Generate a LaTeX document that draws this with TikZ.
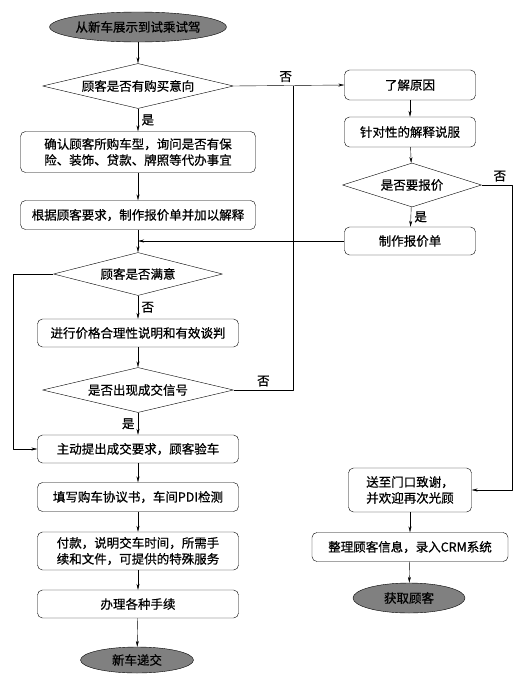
\documentclass[tikz,border=0pt]{standalone}
\usepackage{fontspec}
\setmainfont{Noto Sans CJK SC}[FakeBold=0.6]
\usetikzlibrary{shapes.geometric,arrows.meta}
\begin{document}
\begin{tikzpicture}[x=1pt, y=-1pt, line join=round, >={Stealth[length=6pt,width=3pt]},
	font=\fontsize{12.5}{16}\selectfont,
	box/.style={draw, rounded corners=5pt, align=center, inner sep=0pt},
	ask/.style={draw, diamond, aspect=4, inner sep=0pt},
	ends/.style={draw, ellipse, fill=black!50, inner sep=0pt}]
	\useasboundingbox (0,0) rectangle (522,683);
	% left column
	\node[ends, minimum width=158, minimum height=30] (st) at (138,27) {从新车展示到试乘试驾};
	\node[ask, minimum width=191, minimum height=45] (d1) at (138,86) {顾客是否有购买意向};
	\node[box, minimum width=235, minimum height=41] (b1) at (138,152) {确认顾客所购车型，询问是否有保\\险、装饰、贷款、牌照等代办事宜};
	\node[box, minimum width=235, minimum height=29] (b2) at (138,215) {根据顾客要求，制作报价单并加以解释};
	\node[ask, minimum width=169, minimum height=43] (d2) at (138,274) {顾客是否满意};
	\node[box, minimum width=201, minimum height=28] (b3) at (138,333) {进行价格合理性说明和有效谈判};
	\node[ask, minimum width=191, minimum height=45] (d3) at (138,390) {是否出现成交信号};
	\node[box, minimum width=201, minimum height=28] (b4) at (138,449) {主动提出成交要求，顾客验车};
	\node[box, minimum width=201, minimum height=29] (b5) at (138,497) {填写购车协议书，车间PDI检测};
	\node[box, minimum width=201, minimum height=38] (b6) at (138,551) {付款，说明交车时间，所需手\\续和文件，可提供的特殊服务};
	\node[box, minimum width=201, minimum height=28] (b7) at (138,604) {办理各种手续};
	\node[ends, minimum width=113, minimum height=26] (en1) at (137,660) {新车递交};
	% right column
	\node[box, minimum width=131, minimum height=30] (r1) at (410,85) {了解原因};
	\node[box, minimum width=131, minimum height=30] (r2) at (410,132) {针对性的解释说服};
	\node[ask, minimum width=139, minimum height=44] (rd) at (412,185) {是否要报价};
	\node[box, minimum width=131, minimum height=28] (r3) at (410,241) {制作报价单};
	\node[box, minimum width=123, minimum height=44] (r4) at (410,490) {送至门口致谢，\\并欢迎再次光顾};
	\node[box, minimum width=196, minimum height=29] (r5) at (410,547) {整理顾客信息，录入CRM系统};
	\node[ends, minimum width=112, minimum height=30] (en2) at (409,598) {获取顾客};
	\coordinate (lft) at (13,0);
	\coordinate (jn) at (293,0);
	\coordinate (rt) at (512,0);
	% connectors
	\draw[->] (st) -- (d1);
	\draw[->] (d1) -- node[right]{是} (b1);
	\draw[->] (b1) -- (b2);
	\draw[->] (b2) -- (d2);
	\draw[->] (d2) -- node[right]{否} (b3);
	\draw[->] (d2.west) -- (d2.west -| lft) |- (b4.west);
	\draw[->] (b3) -- (d3);
	\draw[->] (d3) -- node[left]{是} (b4);
	\draw (d3.east) -- node[above]{否} (d3.east -| jn) -- (jn |- d1);
	\draw[->] (d1.east) -- node[above, pos=0.47]{否} (r1.west);
	\draw[->] (b4) -- (b5);
	\draw[->] (b5) -- (b6);
	\draw[->] (b6) -- (b7);
	\draw[->] (b7) -- (en1);
	\draw[->] (r1) -- (r2);
	\draw[->] (r2) -- (rd);
	\draw[->] (rd) -- node[right]{是} (r3);
	\draw[->] (r3.west) -- (r3.west -| b2);
	\draw[->] (rd.east) -- node[above, pos=0.6]{否} (rd.east -| rt) |- (r4.east);
	\draw[->] (r4) -- (r5);
	\draw[->] (r5) -- (en2);
\end{tikzpicture}
\end{document}
